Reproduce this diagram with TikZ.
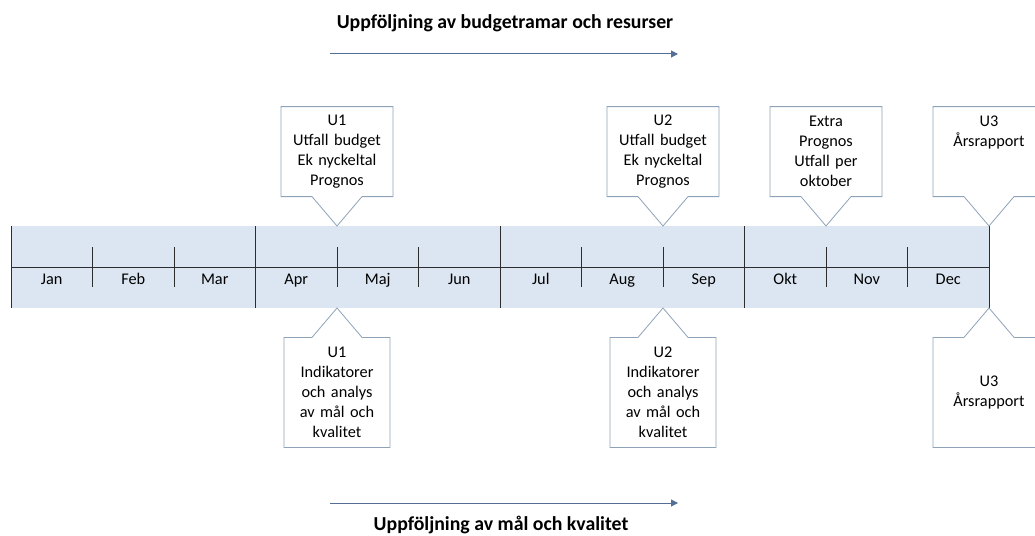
\documentclass[tikz,border=0pt]{standalone}
\usepackage{fontspec}
\setmainfont{Carlito}
\usetikzlibrary{positioning,shapes.callouts,arrows.meta}
\definecolor{bandblue}{RGB}{220,230,242}
\definecolor{calloutgray}{RGB}{143,163,184}
\definecolor{flowblue}{RGB}{84,110,150}
\definecolor{gridline}{RGB}{45,45,45}

\begin{document}
\begin{tikzpicture}[x=1pt,y=-1pt,line width=0.8pt,
	call/.style={rectangle callout,draw=calloutgray,fill=white,align=center,
		font=\fontsize{16.3}{20}\selectfont,inner sep=0pt,
		callout pointer width=50pt},
	topcall/.style={call,text width=112pt,minimum height=90pt},
	lowcall/.style={call,text width=106pt,minimum height=110pt},
	month/.style={font=\fontsize{16.3}{19}\selectfont,text height=1.6ex,text depth=0.5ex},
	flow/.style={flowblue,line width=1pt,-{Triangle[length=7pt,width=7pt]}},
	title/.style={font=\bfseries\fontsize{19.8}{23}\selectfont}]
\clip (0,0) rectangle (1035,535);
\fill[bandblue] (11,226) rectangle (989,308);
\draw[gridline] (11,267) -- (989,267);
\foreach \q in {0,...,4}
\draw[gridline] ({11+\q*244.5},226) -- ++(0,82);
\foreach \m in {1,2,4,5,7,8,10,11}
\draw[gridline] ({11+\m*81.5},247) -- ++(0,40);
\foreach \m [count=\i] in {Jan,Feb,Mar,Apr,Maj,Jun,Jul,Aug,Sep,Okt,Nov,Dec}
\node[month] (month\i) at ({11+(\i-0.5)*81.5},282) {\m};

\coordinate (u1top) at (337,226);
\coordinate (u2top) at (663,226);
\coordinate (extratop) at (826,226);
\coordinate (u3top) at (989,226);
\coordinate (u1low) at (337,308);
\coordinate (u2low) at (663,308);
\coordinate (u3low) at (989,308);

\node[topcall,above=29pt of u1top,callout absolute pointer={(u1top)}] (u1budget)
	{U1\\Utfall budget\\Ek nyckeltal\\Prognos};
\node[topcall,above=29pt of u2top,callout absolute pointer={(u2top)}] (u2budget)
	{U2\\Utfall budget\\Ek nyckeltal\\Prognos};
\node[topcall,above=29pt of extratop,callout absolute pointer={(extratop)}] (extra)
	{Extra\\Prognos\\Utfall per\\oktober};
\node[topcall,above=29pt of u3top,callout absolute pointer={(u3top)}] (u3budget)
	{U3\\Årsrapport\\~\\~};
\node[lowcall,below=29pt of u1low,callout absolute pointer={(u1low)}] (u1goal)
	{U1\\Indikatorer\\och analys\\av mål och\\kvalitet};
\node[lowcall,below=29pt of u2low,callout absolute pointer={(u2low)}] (u2goal)
	{U2\\Indikatorer\\och analys\\av mål och\\kvalitet};
\node[lowcall,text width=112pt,below=29pt of u3low,callout absolute pointer={(u3low)}] (u3goal)
	{U3\\Årsrapport};

\coordinate (budgetstart) at (330,54);
\coordinate (budgetend) at (678,54);
\draw[flow] (budgetstart) -- (budgetend);
\node[title] (budgettitle) at (505,23) {Uppföljning av budgetramar och resurser};
\coordinate (goalstart) at (330,503);
\coordinate (goalend) at (678,503);
\draw[flow] (goalstart) -- (goalend);
\node[title] (goaltitle) at (501,525) {Uppföljning av mål och kvalitet};
\end{tikzpicture}
\end{document}
